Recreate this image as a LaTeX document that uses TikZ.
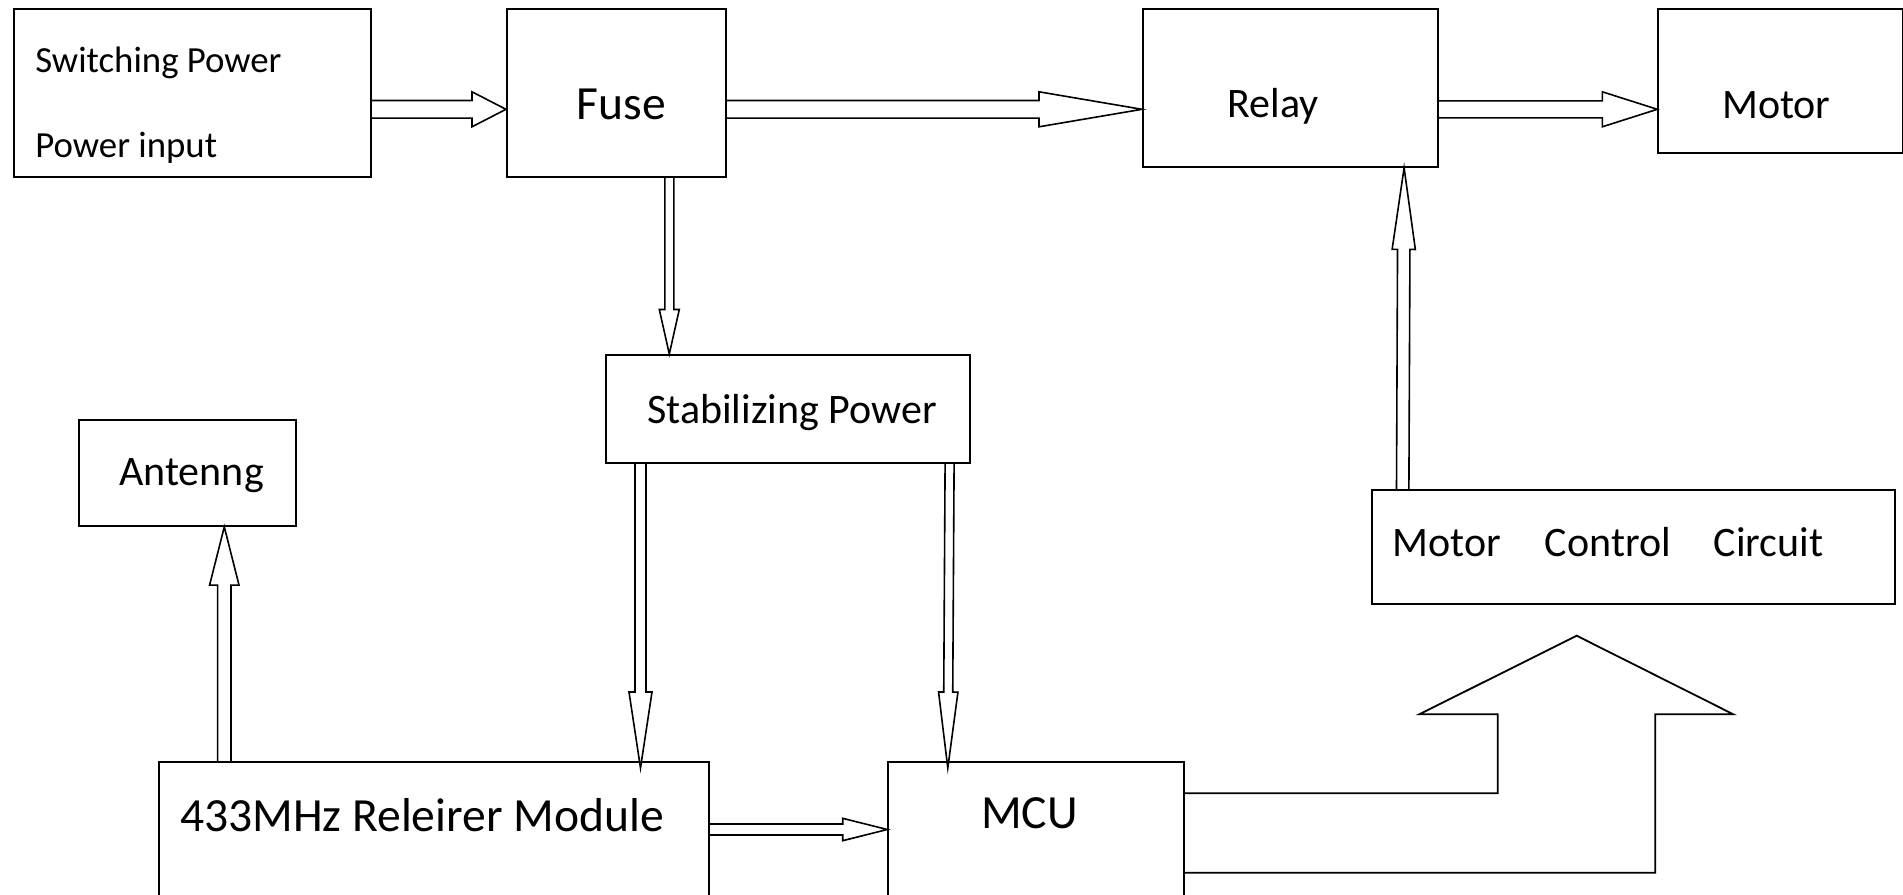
\documentclass[tikz,border=0pt]{standalone}
\usepackage{fontspec}
\setmainfont{Carlito}
\usetikzlibrary{calc}

\tikzset{
  box/.style={draw, line width=0.9pt, inner sep=0pt, anchor=north west},
  lbl/.style={anchor=base west, inner sep=0pt},
  txtS/.style={font=\fontsize{18.4}{22}\selectfont},
  txtM/.style={font=\fontsize{21}{25}\selectfont},
  txtL/.style={font=\fontsize{23.8}{28}\selectfont},
  hollow/.style n args={3}{line width=0.8pt, line join=miter,
    to path={($(\tikztotarget)!#3!(\tikztostart)$) coordinate (hb)
      ($(\tikztostart)!#1!90:(\tikztotarget)$) -- ($(hb)!#1!90:(\tikztotarget)$)
      -- ($(hb)!#2!90:(\tikztotarget)$) -- (\tikztotarget)
      -- ($(hb)!#2!-90:(\tikztotarget)$) -- ($(hb)!#1!-90:(\tikztotarget)$)
      -- ($(\tikztostart)!#1!-90:(\tikztotarget)$)}}
}

\begin{document}
\begin{tikzpicture}[x=0.5pt,y=-0.5pt]
    \useasboundingbox (0,0) rectangle (1903,895);
    \clip (0,0) rectangle (1903,895);
    % blocks
    \node[box, minimum width=178.35pt, minimum height=83.85pt] (sw) at (13.3,8.3) {};
    \node[box, minimum width=109.5pt, minimum height=83.85pt] (fuse) at (506,8.3) {};
    \node[box, minimum width=147.65pt, minimum height=78.85pt] (relay) at (1142,8.3) {};
    \node[box, minimum width=122.2pt, minimum height=72pt] (motor) at (1657.3,8.3) {};
    \node[box, minimum width=182pt, minimum height=53.85pt] (stab) at (605,354) {};
    \node[box, minimum width=108.5pt, minimum height=53pt] (ant) at (78,419) {};
    \node[box, minimum width=261.65pt, minimum height=57.15pt] (mcc) at (1370.7,489) {};
    \node[box, minimum width=274.85pt, minimum height=74.5pt] (mod) at (158.3,761) {};
    \node[box, minimum width=147.7pt, minimum height=74.5pt] (mcu) at (887.3,761) {};
    % texts
    \node[lbl, txtS] (swt) at (35,72.7) {Switching Power};
    \node[lbl, txtS] (swin) at (35,157) {Power input};
    \node[lbl, txtL] (fuset) at (576.5,119) {Fuse};
    \node[lbl, txtM] (relayt) at (1227,117) {Relay};
    \node[lbl, txtM] (motort) at (1721.7,118.5) {Motor};
    \node[lbl, txtM] (stabt) at (646.8,423) {Stabilizing Power};
    \node[lbl, txtM] (antt) at (119,485) {Antenng};
    \node[lbl, txtM] (mcct) at (1392,556) {Motor\hspace{22pt}Control\hspace{21.5pt}Circuit};
    \node[lbl, txtL] (modt) at (179.6,831) {433MHz Releirer Module};
    \node[lbl, txtL] (mcut) at (980.6,828) {MCU};
    % power path
    \draw[hollow={4.4pt}{8.75pt}{17pt}] ($(sw.north east)+(0,101)$) to ($(fuse.north west)+(0,101)$);
    \draw[hollow={4.4pt}{8.75pt}{51.5pt}] ($(fuse.north east)+(0,101)$) to ($(relay.north west)+(0,101)$);
    \draw[hollow={4.25pt}{8.75pt}{27.5pt}] ($(relay.north east)+(0,101)$) to ($(motor.north west)+(0,101)$);
    \draw[hollow={2.25pt}{5pt}{22.25pt}] ($(fuse.south west)+(163.3,0)$) to ($(stab.north west)+(64.3,0)$);
    \draw[hollow={2.75pt}{5.75pt}{38pt}] ($(stab.south west)+(35.5,0)$) to ($(mod.north west)+(482.2,7)$);
    \draw[hollow={2.25pt}{4.85pt}{38pt}] ($(stab.south east)+(-21.2,0)$) to ($(mcu.north west)+(60.5,7)$);
    % control path
    \draw[hollow={3.1pt}{5.8pt}{40.8pt}] ($(mcc.north west)+(32,0)$) to ($(relay.south east)+(-35,0)$);
    \draw[hollow={3.35pt}{7.35pt}{29.15pt}] ($(mod.north west)+(66,0)$) to ($(ant.south west)+(146.3,0)$);
    \draw[hollow={2.75pt}{5.6pt}{22.3pt}] ($(mod.north east)+(0,68.5)$) to ($(mcu.north west)+(0,68.5)$);
    \draw[line width=0.9pt] ($(mcu.north east)+(0,32.3)$) -| (1497.7,714.3) -- (1419.3,714.3)
        -- (1576.7,635.7) -- (1733.3,714.3) -- (1655.3,714.3) |- ($(mcu.north east)+(0,111.7)$);
\end{tikzpicture}
\end{document}
